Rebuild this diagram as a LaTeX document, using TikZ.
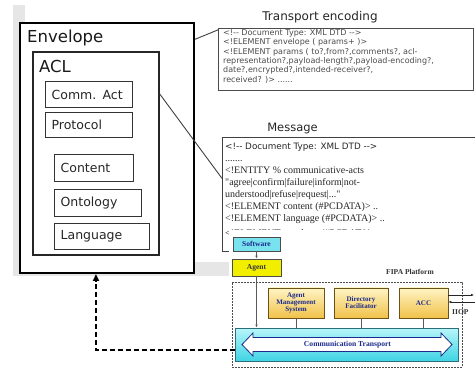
\documentclass[tikz,border=0pt]{standalone}
\usepackage{fontspec}
\setmainfont{Liberation Serif}[Ligatures=TeXOff]
\newfontfamily\djv{DejaVu Sans}[Ligatures=TeXOff]
\usetikzlibrary{arrows.meta}
\definecolor{panelgray}{HTML}{E6E6E6}
\definecolor{navytext}{HTML}{1C2A8C}
\definecolor{swcyan}{HTML}{78E2EE}
\definecolor{agyellow}{HTML}{F2EE00}
\definecolor{boxtop}{HTML}{FFF4C4}
\definecolor{boxbot}{HTML}{F0C24A}
\definecolor{boxedge}{HTML}{6B5216}
\definecolor{ctlight}{HTML}{B8F6FA}
\definecolor{ctdark}{HTML}{3FD4E4}
\definecolor{ctedge}{HTML}{2B6F7A}
\begin{document}
\begin{tikzpicture}[x=1pt,y=-1pt,
  outerbox/.style={draw=black, line width=2pt, fill=white, anchor=north west, inner sep=0pt},
  aclbox/.style={draw=black!85, line width=1.6pt, anchor=north west, inner sep=0pt},
  fieldbox/.style={draw=black!80, line width=1.3pt, anchor=north west, inner xsep=6pt, inner ysep=0pt,
     align=left, font=\djv\fontsize{12.5}{14}\selectfont, text=black!85},
  biglabel/.style={anchor=base west, inner sep=0pt, font=\djv\fontsize{16.5}{18}\selectfont, text=black!90},
  xmlbox/.style={fill=white, anchor=north west, inner sep=0pt},
  seriftext/.style={anchor=base west, inner sep=0pt, font=\fontsize{10}{11}\selectfont, text=black!85},
  link/.style={draw=black!75, line width=0.9pt},
  platbox/.style={draw=black!70, line width=0.8pt, inner sep=0pt, text=navytext,
     font=\bfseries\fontsize{7.5}{8}\selectfont},
  fipabox/.style={draw=boxedge, line width=0.8pt, top color=boxtop, bottom color=boxbot, inner sep=0pt,
     align=center, text=navytext, font=\bfseries\fontsize{7}{7}\selectfont},
  platline/.style={draw=black!65, line width=0.7pt},
  smalltip/.style={-{Latex[length=3pt,width=2.6pt]}}
]
\clip (0,0) rectangle (475,369);
\fill[white] (0,0) rectangle (475,369);
% background panel of the screenshot
\fill[panelgray] (13,5) rectangle (232,276);
\fill[white] (25,5) rectangle (232,262);

% envelope
\node[outerbox, minimum width=174pt, minimum height=250pt] (env) at (19,22) {};
\node[biglabel] (envlbl) at (27,43) {Envelope};
\node[aclbox, minimum width=126pt, minimum height=203pt] (acl) at (32,51) {};
\node[biglabel] (acllbl) at (39,73) {ACL};
\node[fieldbox, text width=75pt, minimum height=26pt] (comm) at (45,81) {Comm. Act};
\node[fieldbox, text width=75pt, minimum height=25pt] (prot) at (45,112) {Protocol};
\node[fieldbox, text width=67pt, minimum height=27pt] (cont) at (54,154) {Content};
\node[fieldbox, text width=75pt, minimum height=27pt] (onto) at (54,189) {Ontology};
\node[fieldbox, text width=83pt, minimum height=26pt] (lang) at (54,223) {Language};

% transport encoding
\node[xmlbox, draw=black!70, line width=0.8pt, minimum width=255pt, minimum height=62pt] (tenc) at (218,28) {};
\node[anchor=base, inner sep=0pt, font=\djv\fontsize{12}{14}\selectfont, text=black!85] (ttitle) at (320,20.5) {Transport encoding};
\node[anchor=north west, inner sep=0pt, align=left, font=\djv\fontsize{8}{9.3}\selectfont, text=black!70] (ttext) at (223,29.5)
 {<!-- Document Type: XML DTD -->\\
  <!ELEMENT envelope ( params+ )>\\
  <!ELEMENT params ( to?,from?,comments?, acl-\\
  representation?,payload-length?,payload-encoding?,\\
  date?,encrypted?,intended-receiver?,\\
  received? )> ......};

% message
\node[xmlbox, draw=black!75, line width=1.1pt, minimum width=262pt, minimum height=114pt] (msg) at (222,137) {};
\node[anchor=base, inner sep=0pt, font=\djv\fontsize{11.5}{13}\selectfont, text=black!85] (mtitle) at (292.5,132) {Message};
\node[anchor=base west, inner sep=0pt, font=\djv\fontsize{8.8}{10}\selectfont, text=black!85] (m0) at (225,150) {<!-- Document Type: XML DTD -->};
\node[seriftext] (m1) at (225,162) {.......};
\node[seriftext] (m2) at (225,174) {<!ENTITY \% communicative-acts};
\node[seriftext] (m3) at (225,185.8) {"agree|confirm|failure|inform|not-};
\node[seriftext] (m4) at (225,197.6) {understood|refuse|request|..."};
\node[seriftext] (m5) at (225,209.4) {<!ELEMENT content (\#PCDATA)> ..};
\node[seriftext] (m6) at (225,221.2) {<!ELEMENT language (\#PCDATA)> ..};
\node[seriftext] (m7) at (225,236.5) {<!ELEMENT ontology (\#PCDATA)> ..};

% connectors from the envelope
\draw[link] (env.51) -- (tenc.167.6);
\draw[link] (acl.43.4) -- (msg.173.8);

% FIPA platform picture
\fill[white] (229,230) rectangle (475,369);
\node[platbox, fill=swcyan, minimum width=47pt, minimum height=14pt] (sw) at (256.5,244) {Software};
\node[platbox, fill=agyellow, minimum width=49pt, minimum height=17pt, text=black!80] (ag) at (256.5,267.5) {Agent};
\draw[platline, smalltip] (sw) -- (ag);
\node[draw=black!70, dash pattern=on 2pt off 1pt, line width=0.8pt, anchor=north west,
      minimum width=230pt, minimum height=85pt, inner sep=0pt] (fipa) at (232,282) {};
\node[anchor=base, inner sep=0pt, font=\bfseries\fontsize{7.5}{9}\selectfont, text=black!80] (fipalbl) at (410,275) {FIPA Platform};
\node[fipabox, minimum width=56pt, minimum height=30pt] (ams) at (296,303) {Agent\\Management\\System};
\node[fipabox, minimum width=54pt, minimum height=30pt] (df) at (361,303) {Directory\\Facilitator};
\node[fipabox, minimum width=49pt, minimum height=30pt] (acc) at (423.5,303) {ACC};
\node[draw=ctedge, line width=0.9pt, top color=ctlight, bottom color=ctdark,
      minimum width=223pt, minimum height=33pt, inner sep=0pt] (ct) at (346.5,344.5) {};
\draw[draw=navytext, line width=0.8pt, fill=white]
  (242,344.5) -- (253,333) -- (253,337.5) -- (441,337.5) -- (441,333) -- (452,344.5)
  -- (441,356) -- (441,351.5) -- (253,351.5) -- (253,356) -- cycle;
\node[inner sep=0pt, font=\bfseries\fontsize{7.6}{8}\selectfont, text=navytext] (ctlbl) at (347.5,344.5) {Communication Transport};
\draw[platline] (ams.south) -- (ams.south |- ct.north);
\draw[platline] (df.south) -- (df.south |- ct.north);
\draw[platline] (acc.south) -- (acc.south |- ct.north);
\draw[platline, smalltip] (ag.south) -- (ag.south |- ct.north);
\coordinate (iiopA) at (474,295);
\coordinate (iiopB) at (478,302);
\draw[platline, smalltip, draw=black!85] (acc.east |- iiopA) -- (iiopA);
\draw[platline, smalltip, draw=black!85] (iiopB) -- (acc.east |- iiopB);
\node[anchor=base west, inner sep=0pt, font=\bfseries\fontsize{7.5}{9}\selectfont, text=black!80] (iiop) at (452,315) {IIOP};

% dashed link back to the envelope
\draw[line width=1.8pt, dash pattern=on 5pt off 3pt, -{Triangle[length=7pt,width=6pt]}]
  (ct.183.3) -| (env.-95.5);
\end{tikzpicture}
\end{document}
